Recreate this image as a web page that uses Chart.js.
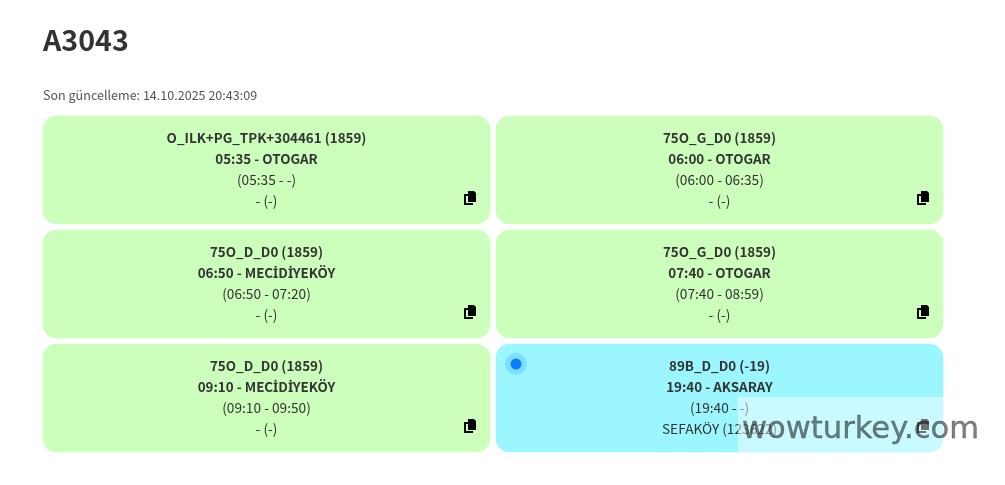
<!DOCTYPE html>
<html lang="tr">
<head>
<meta charset="utf-8">
<title>A3043</title>
<script src="https://cdn.jsdelivr.net/npm/chart.js@4"></script>
<style>
/* Noto Sans CJK'da İ harfi bozuk çıkıyor, sadece o harf için başka font */
@font-face { font-family: "Harf I"; font-weight: 700; src: local("Noto Sans Bold"), local("NotoSans-Bold"); unicode-range: U+0130; }
html, body { margin: 0; background: #fff; }
body { position: relative; width: 1005px; height: 485px; overflow: hidden; font-family: "Noto Sans CJK JP", sans-serif; color: #333; }
#chart { position: absolute; left: 0; top: 0; }
h1 { position: absolute; left: 43px; top: 16px; margin: 0; font-size: 28.6px; line-height: 46px; font-weight: 700; }
#updated { position: absolute; left: 43px; top: 85px; font-size: 12.55px; line-height: 20px; color: #555; }
#mark { position: absolute; left: 738px; top: 397px; width: 267px; height: 55px; background: rgba(255,255,255,.45); }
#mark span { position: absolute; left: 4px; top: 13px; font: 30.6px/36px "DejaVu Sans", sans-serif; color: rgba(0,0,0,.5); -webkit-text-stroke: .4px rgba(0,0,0,.5); }
</style>
</head>
<body>
<canvas id="chart" width="1005" height="485"></canvas>
<h1>A3043</h1>
<div id="updated">Son güncelleme: 14.10.2025 20:43:09</div>
<div id="mark"><span>wowturkey.com</span></div>
<script>
// Kartlar: iki sütun, üç satır
const columns = ['Sol', 'Sağ'];
const rowSpans = [[0, 1], [1, 2], [2, 3]];

const trips = [
	['O_ILK+PG_TPK+304461 (1859)', '75O_G_D0 (1859)'],
	['75O_D_D0 (1859)', '75O_G_D0 (1859)'],
	['75O_D_D0 (1859)', '89B_D_D0 (-19)']
];
const departures = [
	['05:35 - OTOGAR', '06:00 - OTOGAR'],
	['06:50 - MECİDİYEKÖY', '07:40 - OTOGAR'],
	['09:10 - MECİDİYEKÖY', '19:40 - AKSARAY']
];
const times = [
	['(05:35 - -)', '(06:00 - 06:35)'],
	['(06:50 - 07:20)', '(07:40 - 08:59)'],
	['(09:10 - 09:50)', '(19:40 - -)']
];
const stops = [
	['- (-)', '- (-)'],
	['- (-)', '- (-)'],
	['- (-)', 'SEFAKÖY (123622)']
];

const GREEN = '#ccffbb';
const BLUE = '#9bf6ff';
const FONT = '"Noto Sans CJK JP", sans-serif';

function drawCopyIcon(ctx, x, y) {
	// geri yaprak
	ctx.fillStyle = '#000';
	ctx.fillRect(x, y + 3, 2, 11);
	ctx.fillRect(x, y + 12, 9, 2);
	ctx.fillRect(x, y + 3, 4, 2);
	// on yaprak
	ctx.beginPath();
	ctx.moveTo(x + 4, y);
	ctx.lineTo(x + 10, y);
	ctx.lineTo(x + 12, y + 2);
	ctx.lineTo(x + 12, y + 11);
	ctx.lineTo(x + 4, y + 11);
	ctx.closePath();
	ctx.fill();
}

const cardText = {
	id: 'cardText',
	afterDatasetsDraw(chart) {
		const ctx = chart.ctx;
		ctx.save();
		ctx.textAlign = 'center';
		ctx.textBaseline = 'alphabetic';
		rowSpans.forEach((span, r) => {
			chart.getDatasetMeta(r).data.forEach((bar, c) => {
				const top = Math.min(bar.y, bar.base);
				const cx = bar.x;
				ctx.fillStyle = '#333';
				ctx.font = '700 13.4px "Harf I", ' + FONT;
				ctx.fillText(trips[r][c], cx, top + 30);
				ctx.fillText(departures[r][c], cx, top + 51);
				ctx.font = '400 13.7px ' + FONT;
				ctx.fillText(times[r][c], cx, top + 72);
				ctx.fillText(stops[r][c], cx, top + 93);
				drawCopyIcon(ctx, cx + 197.5, top + 78);
				if (r === 2 && c === 1) {
					const dx = bar.x - bar.width / 2 + 23, dy = top + 23;
					ctx.fillStyle = 'rgba(0,123,255,.18)';
					ctx.beginPath(); ctx.arc(dx, dy, 11, 0, Math.PI * 2); ctx.fill();
					ctx.fillStyle = '#0b7bff';
					ctx.beginPath(); ctx.arc(dx, dy, 5.5, 0, Math.PI * 2); ctx.fill();
				}
			});
		});
		ctx.restore();
	}
};

const makeChart = () => new Chart(document.getElementById('chart'), {
	type: 'bar',
	data: {
		labels: columns,
		datasets: rowSpans.map((span, r) => ({
			data: columns.map(() => span),
			backgroundColor: columns.map((col, c) => (r === 2 && c === 1) ? BLUE : GREEN),
			borderColor: '#fff',
			borderWidth: 3,
			borderRadius: 17,
			borderSkipped: false,
			grouped: false,
			barPercentage: 1,
			categoryPercentage: 1
		}))
	},
	options: {
		responsive: false,
		animation: false,
		layout: { padding: { left: 40, right: 59, top: 113, bottom: 30 } },
		plugins: { legend: { display: false }, title: { display: false }, tooltip: { enabled: false } },
		scales: {
			x: { display: false },
			y: { display: false, reverse: true, min: 0, max: 3 }
		}
	},
	plugins: [cardText]
});

document.fonts.load('700 13.4px "Harf I"', 'İ').then(makeChart, makeChart);
</script>
</body>
</html>
